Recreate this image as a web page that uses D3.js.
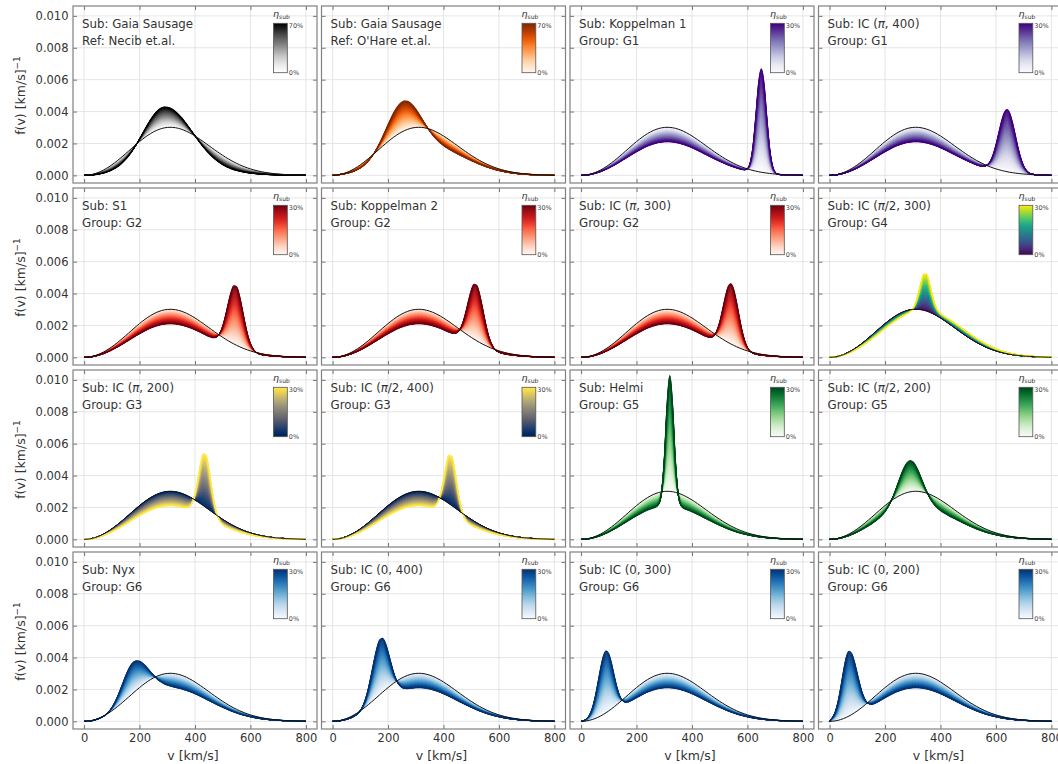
<!DOCTYPE html>
<html>
<head>
<meta charset="utf-8">
<script src="https://cdn.jsdelivr.net/npm/d3@7"></script>
<style>
  html, body { margin: 0; padding: 0; background: #fff; }
  svg text { font-family: "DejaVu Sans", sans-serif; }
</style>
</head>
<body>
<svg id="chart" width="1058" height="764"></svg>
<script>
// Speed grid (km/s) shared by every distribution below.
const speedGrid = d3.range(0, 801, 10);

// Standard halo model f(v), in units of 1e-3 (km/s)^-1, on speedGrid.
const shmValues = [
  0, .007, .028, .062, .111, .172, .246, .332, .430, .539,
  .658, .786, .921, 1.063, 1.211, 1.362, 1.515, 1.669, 1.822, 1.972,
  2.118, 2.257, 2.389, 2.511, 2.623, 2.722, 2.809, 2.880, 2.937, 2.979,
  3.004, 3.014, 3.008, 2.986, 2.949, 2.898, 2.834, 2.757, 2.670, 2.574,
  2.468, 2.355, 2.237, 2.115, 1.989, 1.863, 1.737, 1.612, 1.489, 1.369,
  1.253, 1.142, 1.036, .935, .841, .753, .670, .595, .525, .462,
  .404, .352, .306, .264, .227, .194, .166, .141, .119, .100,
  .084, .070, .058, .048, .040, .032, .026, .020, .012, .005, 0
];

// Substructure speed distributions (1e-3 (km/s)^-1), sampled every 10 km/s
// starting at `from`; zero outside the listed range.
const subNecib = { from: 0, f: [
  0, .005, .007, .012, .019, .029, .044, .066, .096, .138,
  .196, .272, .371, .497, .655, .848, 1.077, 1.346, 1.651, 1.990,
  2.356, 2.740, 3.131, 3.514, 3.875, 4.198, 4.468, 4.671, 4.797, 4.84,
  4.813, 4.734, 4.605, 4.430, 4.214, 3.965, 3.690, 3.395, 3.090, 2.782,
  2.476, 2.180, 1.898, 1.634, 1.392, 1.172, .976, .804, .655, .528,
  .421, .331, .258, .199, .152, .114, .085, .063, .046, .033,
  .024, .017, .012, .008, .005] };
const subOHare = { from: 0, f: [
  0, .039, .049, .061, .078, .098, .127, .164, .215, .283,
  .374, .495, .653, .855, 1.105, 1.412, 1.773, 2.186, 2.643, 3.129,
  3.626, 4.108, 4.552, 4.928, 5.214, 5.394, 5.456, 5.402, 5.238, 4.979,
  4.648, 4.270, 3.869, 3.469, 3.088, 2.740, 2.432, 2.167, 1.945, 1.761,
  1.610, 1.485, 1.380, 1.288, 1.207, 1.131, 1.058, .989, .919, .852,
  .786, .719, .656, .595, .537, .481, .429, .380, .334, .293,
  .255, .220, .189, .162, .138, .116, .098, .081, .068, .056,
  .046, .037, .030, .024, .019, .015, .011, .006, 0] };
const subKoppelman1 = { from: 590, f: [.085, .46, 1.85, 5.43, 11.75, 18.68, 21.8, 18.68, 11.75, 5.43, 1.85, .46, .085] };
const subICpi400 = { from: 540, f: [.05, .15, .38, .87, 1.78, 3.29, 5.43, 8.01, 10.57, 12.49, 13.2, 12.49, 10.57, 8.01, 5.43, 3.29, 1.78, .87, .38, .15, .05] };
const subS1 = { from: 450, f: [.04, .13, .37, .89, 1.91, 3.63, 6.05, 8.86, 11.43, 12.99, 12.99, 11.43, 8.86, 6.05, 3.63, 1.91, .89, .37, .13, .04] };
const subKoppelman2 = { from: 420, f: [.04, .13, .35, .87, 1.86, 3.52, 5.86, 8.59, 11.08, 12.6, 12.6, 11.08, 8.59, 5.86, 3.52, 1.86, .87, .35, .13, .04] };
const subICpi300 = { from: 450, f: [.05, .17, .46, 1.13, 2.41, 4.48, 7.22, 10.18, 12.52, 13.4, 12.52, 10.18, 7.22, 4.48, 2.41, 1.13, .46, .17, .05] };
const subIChalfpi300 = { from: 0, f: [
  0, .045, .056, .069, .085, .10, .13, .15, .19, .22,
  .27, .31, .37, .43, .50, .58, .67, .76, .87, .98,
  1.10, 1.23, 1.36, 1.50, 1.64, 1.79, 1.94, 2.09, 2.28, 2.56,
  3.14, 4.33, 6.34, 8.77, 10.53, 10.61, 9.01, 6.73, 4.87, 3.82,
  3.37, 3.20, 3.12, 3.05, 2.97, 2.88, 2.77, 2.65, 2.52, 2.38,
  2.24, 2.09, 1.94, 1.79, 1.64, 1.50, 1.36, 1.23, 1.10, .98,
  .87, .76, .67, .58, .50, .43, .37, .31, .27, .22,
  .19, .15, .13, .10, .085, .069, .056, .045, .02, 0, 0] };
const subICpi200 = { from: 360, f: [.04, .17, .58, 1.64, 3.75, 6.97, 10.53, 12.97, 12.97, 10.53, 6.97, 3.75, 1.64, .58, .17, .04] };
const subIChalfpi400 = { from: 350, f: [.04, .16, .56, 1.56, 3.58, 6.65, 10.06, 12.38, 12.38, 10.06, 6.65, 3.58, 1.56, .56, .16, .04] };
const subHelmi = { from: 270, f: [.05, .46, 2.75, 9.79, 21.1, 27.2, 21.1, 9.79, 2.75, .46, .05] };
const subIChalfpi200 = { from: 160, f: [.06, .13, .26, .48, .85, 1.41, 2.21, 3.25, 4.50, 5.89, 7.25, 8.42, 9.21, 9.48, 9.21, 8.42, 7.25, 5.89, 4.50, 3.25, 2.21, 1.41, .85, .48, .26, .13, .06] };
const subNyx = { from: 20, f: [.01, .01, .03, .07, .14, .27, .48, .83, 1.34, 2.04, 2.95, 4.03, 5.21, 6.36, 7.32, 7.97, 8.2, 8.05, 7.62, 6.95, 6.10, 5.17, 4.21, 3.31, 2.51, 1.83, 1.29, .88, .57, .36, .22, .13, .07, .04, .02] };
const subIC0400 = { from: 70, f: [.04, .12, .31, .71, 1.48, 2.75, 4.64, 7.04, 9.60, 11.84, 13.13, 13.13, 11.84, 9.60, 7.04, 4.64, 2.75, 1.48, .71, .31, .12, .04] };
const subIC0300 = { from: 0, f: [0, .17, .47, 1.14, 2.42, 4.49, 7.25, 10.22, 12.56, 13.45, 12.56, 10.22, 7.25, 4.49, 2.42, 1.14, .47, .17, .05] };
const subIC0200 = { from: 0, f: [0, .78, 1.87, 3.85, 6.75, 10.06, 12.79, 13.86, 13.11, 11.10, 8.41, 5.70, 3.45, 1.87, .91, .40, .15, .05] };

// Panel contents, in reading order (4 x 4).
const panelSubs = [
  subNecib, subOHare, subKoppelman1, subICpi400,
  subS1, subKoppelman2, subICpi300, subIChalfpi300,
  subICpi200, subIChalfpi400, subHelmi, subIChalfpi200,
  subNyx, subIC0400, subIC0300, subIC0200
];
const panelTitles = [
  "Sub: Gaia Sausage", "Sub: Gaia Sausage", "Sub: Koppelman 1", "Sub: IC (π, 400)",
  "Sub: S1", "Sub: Koppelman 2", "Sub: IC (π, 300)", "Sub: IC (π/2, 300)",
  "Sub: IC (π, 200)", "Sub: IC (π/2, 400)", "Sub: Helmi", "Sub: IC (π/2, 200)",
  "Sub: Nyx", "Sub: IC (0, 400)", "Sub: IC (0, 300)", "Sub: IC (0, 200)"
];
const panelNotes = [
  "Ref: Necib et.al.", "Ref: O'Hare et.al.", "Group: G1", "Group: G1",
  "Group: G2", "Group: G2", "Group: G2", "Group: G4",
  "Group: G3", "Group: G3", "Group: G5", "Group: G5",
  "Group: G6", "Group: G6", "Group: G6", "Group: G6"
];
const panelEtaMax = [
  0.7, 0.7, 0.3, 0.3,
  0.3, 0.3, 0.3, 0.3,
  0.3, 0.3, 0.3, 0.3,
  0.3, 0.3, 0.3, 0.3
];
const panelColormaps = [
  "Greys", "Oranges", "Purples", "Purples",
  "Reds", "Reds", "Reds", "Viridis",
  "Cividis", "Cividis", "Greens", "Greens",
  "Blues", "Blues", "Blues", "Blues"
];

const xTicks = [0, 200, 400, 600, 800];
const yTicks = [0, 2, 4, 6, 8, 10];                       // 1e-3 units
const yTickLabels = ["0.000", "0.002", "0.004", "0.006", "0.008", "0.010"];

const colormaps = {
  Greys: d3.interpolateGreys, Oranges: d3.interpolateOranges,
  Purples: d3.interpolatePurples, Reds: d3.interpolateReds,
  Viridis: d3.interpolateViridis, Cividis: d3.interpolateCividis,
  Greens: d3.interpolateGreens, Blues: d3.interpolateBlues
};

// Layout
const svg = d3.select("#chart");
const defs = svg.append("defs");
const axW = 244, axH = 177, left0 = 73, top0 = 6, stepX = 248.5, stepY = 182;
const nBands = 64;
const textColor = "#333";

function addTitle(sel, str) {
  // render π in italic, like mathtext
  const parts = str.split("π");
  parts.forEach((part, i) => {
    if (part) sel.append("tspan").text(part);
    if (i < parts.length - 1) sel.append("tspan").attr("font-style", "italic").text("π");
  });
}

panelSubs.forEach((sub, p) => {
  const col = p % 4, row = Math.floor(p / 4);
  const left = left0 + col * stepX, top = top0 + row * stepY;
  const x = d3.scaleLinear().domain([-40, 840]).range([left, left + axW]);
  const y = d3.scaleLinear().domain([-0.48, 10.62]).range([top + axH, top]);
  const cmap = colormaps[panelColormaps[p]];
  const etaMax = panelEtaMax[p];

  defs.append("clipPath").attr("id", "clip" + p)
    .append("rect").attr("x", left).attr("y", top).attr("width", axW).attr("height", axH);

  const g = svg.append("g");

  // grid
  const grid = g.append("g").attr("stroke", "#dedede").attr("stroke-width", 0.8);
  grid.selectAll("line.vx").data(xTicks).join("line")
    .attr("x1", d => x(d)).attr("x2", d => x(d)).attr("y1", top).attr("y2", top + axH);
  grid.selectAll("line.hy").data(yTicks).join("line")
    .attr("x1", left).attr("x2", left + axW).attr("y1", d => y(d)).attr("y2", d => y(d));

  // substructure on the common grid
  const subOnGrid = speedGrid.map(v => {
    const i = Math.round((v - sub.from) / 10);
    return (i >= 0 && i < sub.f.length) ? sub.f[i] : 0;
  });
  const mixture = eta => speedGrid.map((v, i) => (1 - eta) * shmValues[i] + eta * subOnGrid[i]);

  const plot = g.append("g").attr("clip-path", `url(#clip${p})`);

  // colored bands between consecutive substructure fractions
  const area = d3.area()
    .x(d => x(d.v)).y0(d => y(d.a)).y1(d => y(d.b))
    .curve(d3.curveMonotoneX);
  for (let k = 0; k < nBands; k++) {
    const lo = mixture(etaMax * k / nBands);
    const hi = mixture(etaMax * (k + 1) / nBands);
    const data = speedGrid.map((v, i) => ({ v, a: lo[i], b: hi[i] }));
    const c = cmap((k + 0.5) / nBands);
    plot.append("path").attr("d", area(data))
      .attr("fill", c).attr("stroke", c).attr("stroke-width", 0.5);
  }

  const line = d3.line().x(d => x(d[0])).y(d => y(d[1])).curve(d3.curveMonotoneX);
  const top_ = mixture(etaMax);
  plot.append("path").attr("d", line(speedGrid.map((v, i) => [v, top_[i]])))
    .attr("fill", "none").attr("stroke", cmap(1)).attr("stroke-width", 1.1);
  plot.append("path").attr("d", line(speedGrid.map((v, i) => [v, shmValues[i]])))
    .attr("fill", "none").attr("stroke", "#111").attr("stroke-width", 1.0);

  // axes with inward ticks on all sides
  const styleAxis = a => {
    a.select(".domain").remove();
    a.selectAll(".tick line").attr("stroke", "#666").attr("stroke-width", 0.9);
    a.selectAll("text").attr("fill", textColor).attr("font-size", 11.5)
      .attr("font-family", "DejaVu Sans, sans-serif");
  };
  g.append("g").attr("transform", `translate(0,${top + axH})`)
    .call(d3.axisBottom(x).tickValues(xTicks).tickSizeInner(-4).tickSizeOuter(0).tickPadding(4.8)
      .tickFormat(row === 3 ? d3.format("d") : () => ""))
    .call(styleAxis);
  g.append("g").attr("transform", `translate(0,${top})`)
    .call(d3.axisTop(x).tickValues(xTicks).tickSizeInner(-4).tickSizeOuter(0).tickFormat(() => ""))
    .call(styleAxis);
  g.append("g").attr("transform", `translate(${left},0)`)
    .call(d3.axisLeft(y).tickValues(yTicks).tickSizeInner(-4).tickSizeOuter(0).tickPadding(4.5)
      .tickFormat((d, i) => col === 0 ? yTickLabels[i] : ""))
    .call(styleAxis);
  g.append("g").attr("transform", `translate(${left + axW},0)`)
    .call(d3.axisRight(y).tickValues(yTicks).tickSizeInner(-4).tickSizeOuter(0).tickFormat(() => ""))
    .call(styleAxis);

  // frame
  g.append("rect").attr("x", left).attr("y", top).attr("width", axW).attr("height", axH)
    .attr("fill", "none").attr("stroke", "#808080").attr("stroke-width", 1.2);

  // annotations
  const t1 = g.append("text").attr("x", left + 9).attr("y", top + 22)
    .attr("font-size", 11.8).attr("fill", textColor);
  addTitle(t1, panelTitles[p]);
  g.append("text").attr("x", left + 9).attr("y", top + 39)
    .attr("font-size", 11.8).attr("fill", textColor).text(panelNotes[p]);

  // colorbar
  const gradId = "grad" + p;
  const grad = defs.append("linearGradient").attr("id", gradId)
    .attr("x1", 0).attr("y1", 1).attr("x2", 0).attr("y2", 0);
  d3.range(0, 1.0001, 0.05).forEach(t => {
    grad.append("stop").attr("offset", t).attr("stop-color", cmap(t));
  });
  const cbX = left + 200.5, cbY = top + 17.3, cbW = 13.8, cbH = 49.4;
  g.append("rect").attr("x", cbX).attr("y", cbY).attr("width", cbW).attr("height", cbH)
    .attr("fill", `url(#${gradId})`).attr("stroke", "#555").attr("stroke-width", 0.8);
  g.append("text").attr("x", cbX + cbW + 1.5).attr("y", cbY + 4.5)
    .attr("font-size", 6.5).attr("fill", "#444").text(d3.format(".0%")(etaMax));
  g.append("text").attr("x", cbX + cbW + 1.5).attr("y", cbY + cbH + 2.5)
    .attr("font-size", 6.5).attr("fill", "#444").text("0%");
  const eta = g.append("text").attr("x", cbX + cbW / 2 + 1).attr("y", top + 11)
    .attr("text-anchor", "middle").attr("fill", "#333");
  eta.append("tspan").attr("font-size", 9.5).attr("font-style", "italic").text("η");
  eta.append("tspan").attr("font-size", 6).attr("dy", 2).text("sub");

  // axis titles
  if (col === 0) {
    const yl = svg.append("text")
      .attr("transform", `translate(25,${top + axH / 2 + 1}) rotate(-90)`)
      .attr("text-anchor", "middle").attr("font-size", 12.5).attr("fill", textColor);
    yl.append("tspan").text("f(v) [km/s]");
    yl.append("tspan").attr("font-size", 9).attr("dy", -5).text("−1");
  }
  if (row === 3) {
    svg.append("text").attr("x", x(400) - 2).attr("y", 760)
      .attr("text-anchor", "middle").attr("font-size", 12.5).attr("fill", textColor)
      .text("v [km/s]");
  }
});
</script>
</body>
</html>
